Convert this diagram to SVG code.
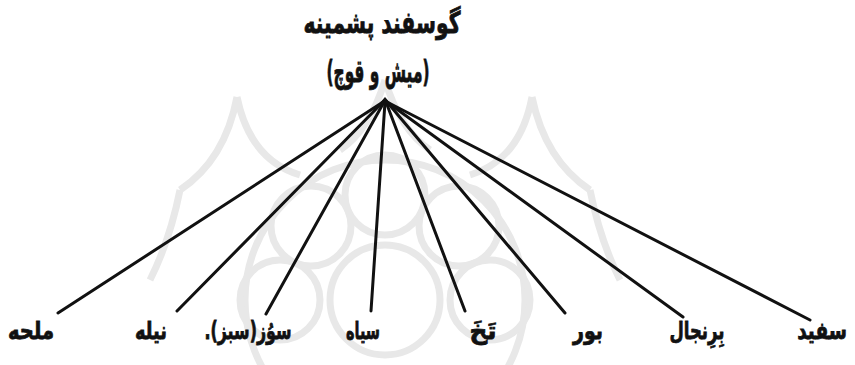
<svg xmlns="http://www.w3.org/2000/svg" width="855" height="365" viewBox="0 0 855 365">
<style>
.t{font-family:"DejaVu Sans",sans-serif;font-weight:bold;fill:#111;stroke:#111;stroke-width:0.8;text-anchor:middle;direction:rtl}
.lbl{font-size:24px}
.wm{fill:none;stroke:#e8e8e8;stroke-width:7}
.edge{stroke:#111;stroke-width:3;stroke-linecap:round;fill:none}
</style>
<rect width="855" height="365" fill="#fff"/>
<g id="watermark">
<circle class="wm" cx="385" cy="300" r="55"/>
<circle class="wm" cx="385" cy="300" r="140"/>
<g class="wm">
<circle cx="385" cy="195" r="40"/>
<circle cx="459" cy="226" r="40"/>
<circle cx="490" cy="300" r="40"/>
<circle cx="311" cy="226" r="40"/>
<circle cx="280" cy="300" r="40"/>
<path d="M237 97 Q250 160 300 175 M237 97 Q225 160 180 190 M532 97 Q520 160 470 175 M532 97 Q545 160 590 190 M385 80 Q370 130 340 150 M385 80 Q400 130 430 150 M180 190 Q170 240 150 280 M590 190 Q600 240 620 280"/>
</g>
</g>
<g id="edges">
<polygon points="378,105 385,97 392,105" fill="#111"/>
<line class="edge" x1="383" y1="102" x2="58" y2="313"/>
<line class="edge" x1="383" y1="102" x2="177" y2="311"/>
<line class="edge" x1="384" y1="102" x2="266" y2="314"/>
<line class="edge" x1="385" y1="102" x2="371" y2="311"/>
<line class="edge" x1="386" y1="102" x2="465" y2="311"/>
<line class="edge" x1="387" y1="102" x2="565" y2="313"/>
<line class="edge" x1="387" y1="102" x2="683" y2="317"/>
<line class="edge" x1="387" y1="102" x2="810" y2="320"/>
</g>
<g id="root">
<text class="t" x="382" y="33" font-size="30" textLength="157" lengthAdjust="spacingAndGlyphs">گوسفند پشمینه</text>
<text class="t" x="378" y="82" font-size="31" textLength="103" lengthAdjust="spacingAndGlyphs">(میش و قوچ)</text>
</g>
<g id="n1"><text class="t lbl" x="31" y="339" textLength="46" lengthAdjust="spacingAndGlyphs">ملحه</text></g>
<g id="n2"><text class="t lbl" x="151" y="339" textLength="32" lengthAdjust="spacingAndGlyphs">نیله</text></g>
<g id="n3"><text class="t lbl" x="248" y="339" textLength="87" lengthAdjust="spacingAndGlyphs">سوُز(سبز).</text></g>
<g id="n4"><text class="t lbl" x="363" y="339" textLength="34" lengthAdjust="spacingAndGlyphs">سیاه</text></g>
<g id="n5"><text class="t lbl" x="483" y="339" textLength="27" lengthAdjust="spacingAndGlyphs">تَخَ</text></g>
<g id="n6"><text class="t lbl" x="588" y="339" textLength="30" lengthAdjust="spacingAndGlyphs">بور</text></g>
<g id="n7"><text class="t lbl" x="697" y="339" textLength="55" lengthAdjust="spacingAndGlyphs">بِرِنجال</text></g>
<g id="n8"><text class="t lbl" transform="translate(822 339) scale(0.77 1)" x="0" y="0">سفید</text></g>
</svg>
